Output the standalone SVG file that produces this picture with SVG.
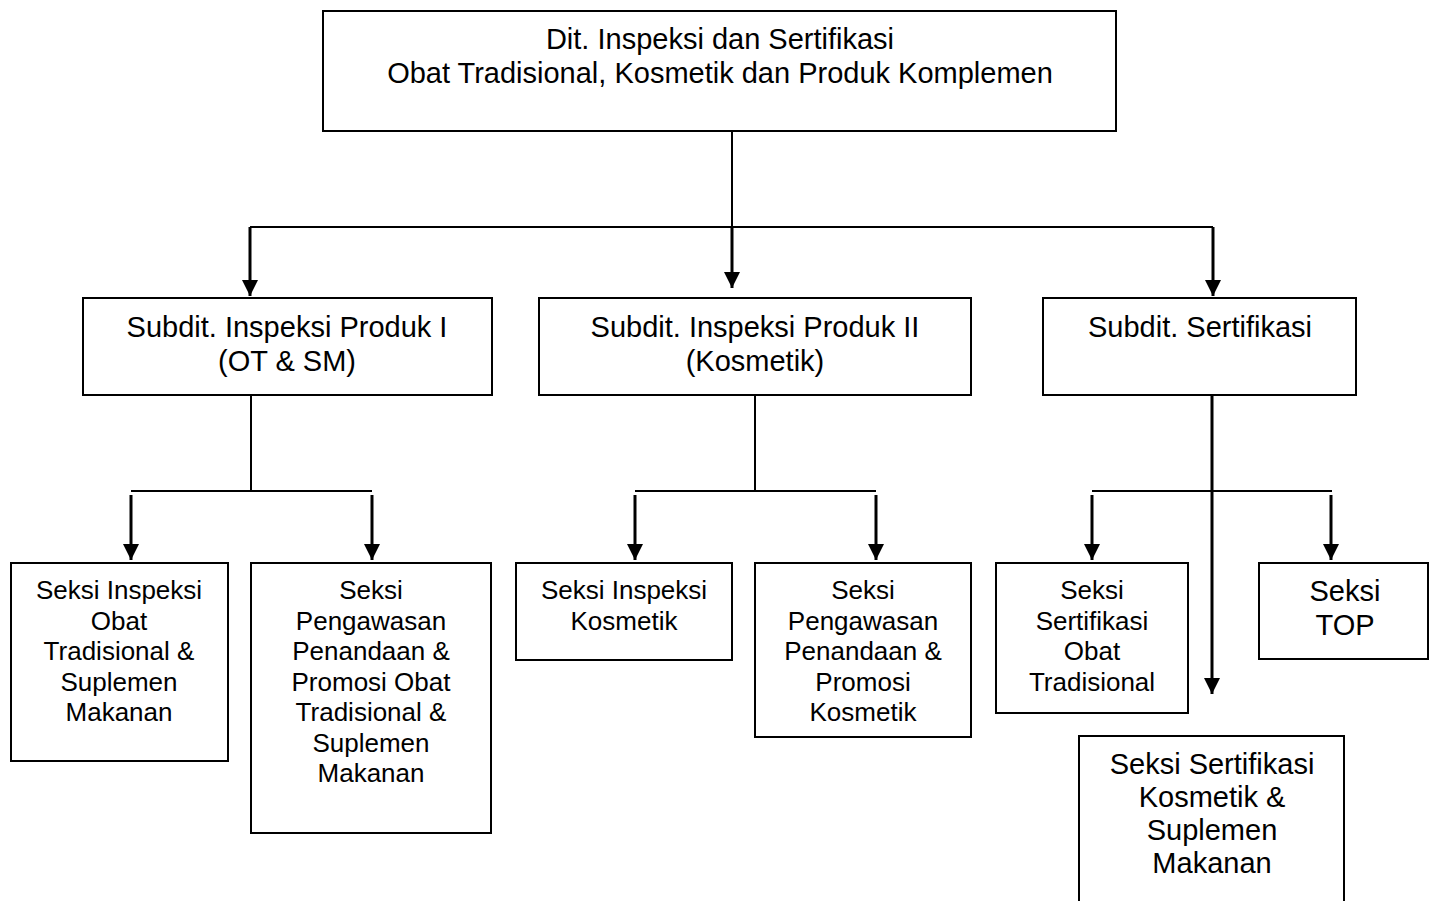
<svg xmlns="http://www.w3.org/2000/svg" width="1435" height="901" viewBox="0 0 1435 901">
  <style>
    .box { fill: #ffffff; stroke: #000000; stroke-width: 2; }
    .lbl { font-family: "Liberation Sans", Arial, sans-serif; fill: #000000; text-anchor: middle; }
    .t29 { font-size: 29px; }
    .t26 { font-size: 26px; }
    .link { fill: none; stroke: #000000; stroke-width: 2; }
    .arr { fill: none; stroke: #000000; stroke-width: 3; marker-end: url(#head); }
  </style>
  <defs>
    <marker id="head" markerUnits="userSpaceOnUse" markerWidth="16" markerHeight="16" viewBox="0 0 16 16" refX="16" refY="8" orient="auto">
      <path d="M0,0 L16,8 L0,16 Z" fill="#000000"/>
    </marker>
  </defs>
  <rect width="1435" height="901" fill="#ffffff"/>

  <!-- connectors -->
  <g id="connectors">
    <!-- directorate to sub-directorates -->
    <line class="link" x1="732" y1="131" x2="732" y2="227"/>
    <line class="link" x1="250" y1="227" x2="1213" y2="227"/>
    <line class="arr" x1="250" y1="227" x2="250" y2="296"/>
    <line class="arr" x1="732" y1="227" x2="732" y2="288"/>
    <line class="arr" x1="1213" y1="227" x2="1213" y2="296"/>

    <!-- Subdit I -->
    <line class="link" x1="251" y1="396" x2="251" y2="491"/>
    <line class="link" x1="131" y1="491" x2="372" y2="491"/>
    <line class="arr" x1="131" y1="495" x2="131" y2="560"/>
    <line class="arr" x1="372" y1="495" x2="372" y2="560"/>

    <!-- Subdit II -->
    <line class="link" x1="755" y1="396" x2="755" y2="491"/>
    <line class="link" x1="635" y1="491" x2="876" y2="491"/>
    <line class="arr" x1="635" y1="495" x2="635" y2="560"/>
    <line class="arr" x1="876" y1="495" x2="876" y2="560"/>

    <!-- Subdit Sertifikasi -->
    <line class="link" x1="1092" y1="491" x2="1332" y2="491"/>
    <line class="arr" x1="1212" y1="396" x2="1212" y2="694"/>
    <line class="arr" x1="1092" y1="495" x2="1092" y2="560"/>
    <line class="arr" x1="1331" y1="495" x2="1331" y2="560"/>
  </g>

  <!-- directorate -->
  <g id="dit">
    <rect class="box" x="323" y="11" width="793" height="120"/>
    <text class="lbl t29" x="720" y="49">Dit. Inspeksi dan Sertifikasi</text>
    <text class="lbl t29" x="720" y="83">Obat Tradisional, Kosmetik dan Produk Komplemen</text>
  </g>

  <!-- sub-directorates -->
  <g id="subdit-1">
    <rect class="box" x="83" y="298" width="409" height="97"/>
    <text class="lbl t29" x="287" y="337">Subdit. Inspeksi Produk I</text>
    <text class="lbl t29" x="287" y="371">(OT &amp; SM)</text>
  </g>
  <g id="subdit-2">
    <rect class="box" x="539" y="298" width="432" height="97"/>
    <text class="lbl t29" x="755" y="337">Subdit. Inspeksi Produk II</text>
    <text class="lbl t29" x="755" y="371">(Kosmetik)</text>
  </g>
  <g id="subdit-3">
    <rect class="box" x="1043" y="298" width="313" height="97"/>
    <text class="lbl t29" x="1200" y="337">Subdit. Sertifikasi</text>
  </g>

  <!-- sections -->
  <g id="seksi-inspeksi-ot">
    <rect class="box" x="11" y="563" width="217" height="198"/>
    <text class="lbl t26" x="119" y="599">Seksi Inspeksi</text>
    <text class="lbl t26" x="119" y="630">Obat</text>
    <text class="lbl t26" x="119" y="660">Tradisional &amp;</text>
    <text class="lbl t26" x="119" y="691">Suplemen</text>
    <text class="lbl t26" x="119" y="721">Makanan</text>
  </g>
  <g id="seksi-pengawasan-ot">
    <rect class="box" x="251" y="563" width="240" height="270"/>
    <text class="lbl t26" x="371" y="599">Seksi</text>
    <text class="lbl t26" x="371" y="630">Pengawasan</text>
    <text class="lbl t26" x="371" y="660">Penandaan &amp;</text>
    <text class="lbl t26" x="371" y="691">Promosi Obat</text>
    <text class="lbl t26" x="371" y="721">Tradisional &amp;</text>
    <text class="lbl t26" x="371" y="752">Suplemen</text>
    <text class="lbl t26" x="371" y="782">Makanan</text>
  </g>
  <g id="seksi-inspeksi-kosmetik">
    <rect class="box" x="516" y="563" width="216" height="97"/>
    <text class="lbl t26" x="624" y="599">Seksi Inspeksi</text>
    <text class="lbl t26" x="624" y="630">Kosmetik</text>
  </g>
  <g id="seksi-pengawasan-kosmetik">
    <rect class="box" x="755" y="563" width="216" height="174"/>
    <text class="lbl t26" x="863" y="599">Seksi</text>
    <text class="lbl t26" x="863" y="630">Pengawasan</text>
    <text class="lbl t26" x="863" y="660">Penandaan &amp;</text>
    <text class="lbl t26" x="863" y="691">Promosi</text>
    <text class="lbl t26" x="863" y="721">Kosmetik</text>
  </g>
  <g id="seksi-sertifikasi-ot">
    <rect class="box" x="996" y="563" width="192" height="150"/>
    <text class="lbl t26" x="1092" y="599">Seksi</text>
    <text class="lbl t26" x="1092" y="630">Sertifikasi</text>
    <text class="lbl t26" x="1092" y="660">Obat</text>
    <text class="lbl t26" x="1092" y="691">Tradisional</text>
  </g>
  <g id="seksi-top">
    <rect class="box" x="1259" y="563" width="169" height="96"/>
    <text class="lbl t29" x="1345" y="601">Seksi</text>
    <text class="lbl t29" x="1345" y="635">TOP</text>
  </g>
  <g id="seksi-sertifikasi-kosmetik">
    <rect class="box" x="1079" y="736" width="265" height="180"/>
    <text class="lbl t29" x="1212" y="774">Seksi Sertifikasi</text>
    <text class="lbl t29" x="1212" y="807">Kosmetik &amp;</text>
    <text class="lbl t29" x="1212" y="840">Suplemen</text>
    <text class="lbl t29" x="1212" y="873">Makanan</text>
  </g>
</svg>
